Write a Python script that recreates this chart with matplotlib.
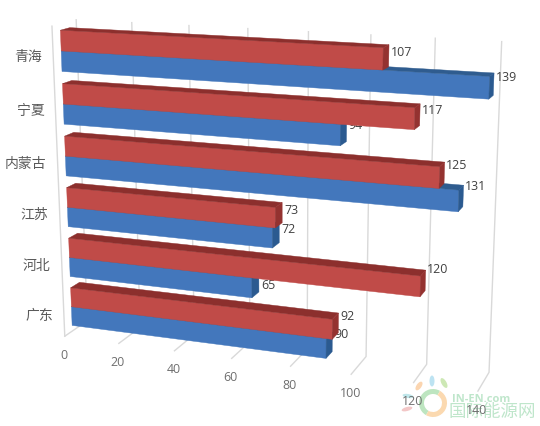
import numpy as np
import matplotlib
matplotlib.use("Agg")
import matplotlib.pyplot as plt
from matplotlib.patches import Polygon, Ellipse, Wedge

plt.rcParams['font.family'] = ['Noto Sans CJK SC', 'DejaVu Sans']

# ---- data -------------------------------------------------------------
categories = ['广东', '河北', '江苏', '内蒙古', '宁夏', '青海']
blue_values = [90, 65, 72, 131, 94, 139]
red_values = [92, 120, 73, 125, 117, 107]
value_ticks = [0, 20, 40, 60, 80, 100, 120, 140]

# ---- camera: 3D chart box (value, category height, depth) to pixels -----
cal_world = [
    (0, 6, 1), (20, 6, 1), (40, 6, 1), (60, 6, 1), (80, 6, 1), (100, 6, 1), (120, 6, 1), (140, 6, 1),
    (80, 0, 1), (100, 0, 1), (120, 0, 1), (140, 0, 1),
    (0, 0, 0), (20, 0, 0), (40, 0, 0), (60, 0, 0), (80, 0, 0), (100, 0, 0), (120, 0, 0), (140, 0, 0),
    (0, 6, 0),
]
cal_pixel = [
    (76, 22), (132, 23), (189, 26), (248, 29), (308, 33), (371, 37), (435, 39), (502, 42),
    (307, 350), (366, 357), (427, 365), (489, 374),
    (64, 337), (119, 344), (175, 352), (232, 360), (291, 367), (351, 375), (414, 384), (477, 392),
    (52, 27),
]

# upward shift of each data label, in pixels (same order as categories)
red_label_lift = [7, 12, 3, 8, 5, 4]
blue_label_lift = [8, -2, 4, 10, 6, 8]


def fit_camera(world, pixel):
    rows, rhs = [], []
    for (a, b, c), (x, y) in zip(world, pixel):
        rows.append([a, b, c, 1, 0, 0, 0, 0, -x * a, -x * b, -x * c])
        rhs.append(x)
        rows.append([0, 0, 0, 0, a, b, c, 1, -y * a, -y * b, -y * c])
        rhs.append(y)
    sol = np.linalg.lstsq(np.array(rows, float), np.array(rhs, float), rcond=None)[0]
    return np.append(sol, 1.0).reshape(3, 4)


CAM = fit_camera(cal_world, cal_pixel)


def project(v, h, d):
    p = CAM @ np.array([v, h, d, 1.0])
    return p[0] / p[2], p[1] / p[2]


# ---- figure -------------------------------------------------------------
fig = plt.figure(figsize=(5.4, 4.27), dpi=100)
ax = fig.add_axes([0, 0, 1, 1])
ax.set_xlim(0, 540)
ax.set_ylim(427, 0)
ax.axis('off')

GRID = '#D9D9D9'
n = len(categories)

# back wall and floor gridlines, left wall edge
for t in value_ticks:
    pts = [project(t, n, 1), project(t, 0, 1), project(t, 0, 0)]
    ax.plot(*zip(*pts), color=GRID, lw=1.0, zorder=1)
ax.plot(*zip(project(0, n, 0), project(0, 0, 0)), color=GRID, lw=1.0, zorder=1)

BAR_D0, BAR_D1 = 0.33, 0.72
BAR_H = 0.385
RED = dict(front='#C04B48', top='#8C2F2D', side='#943230')
BLUE = dict(front='#4377BC', top='#2F5C8F', side='#2B5A90')


def draw_bar(value, h0, h1, col, z):
    faces = [
        ([(0, h0, BAR_D0), (value, h0, BAR_D0), (value, h1, BAR_D0), (0, h1, BAR_D0)], col['front']),
        ([(0, h1, BAR_D0), (value, h1, BAR_D0), (value, h1, BAR_D1), (0, h1, BAR_D1)], col['top']),
        ([(value, h0, BAR_D0), (value, h1, BAR_D0), (value, h1, BAR_D1), (value, h0, BAR_D1)], col['side']),
    ]
    for corners, c in faces:
        ax.add_patch(Polygon([project(*q) for q in corners], closed=True,
                             facecolor=c, edgecolor=c, lw=0.3, zorder=z))


z = 10
for i in range(n - 1, -1, -1):
    centre = i + 0.5
    draw_bar(blue_values[i], centre - BAR_H, centre, BLUE, z)
    z += 1
    draw_bar(red_values[i], centre, centre + BAR_H, RED, z)
    z += 1

# data labels sit underneath the bars, as in the reference
LABEL = '#404040'
num_font = ['Open Sans', 'DejaVu Sans']
for i in range(n):
    centre = i + 0.5
    for val, h, lift in ((red_values[i], centre + BAR_H * 0.5, red_label_lift[i]),
                         (blue_values[i], centre - BAR_H * 0.5, blue_label_lift[i])):
        ax.annotate(str(val), project(val, h, BAR_D1), xytext=(2, lift), textcoords='offset pixels',
                    ha='left', va='center', fontsize=8.9, color=LABEL, family=num_font, zorder=5)

# watermark, underneath the axis labels
WM = '#BFE6CB'
ax.add_patch(Wedge((433, 404), 14, 120, 300, width=5, facecolor='#BDE5C0', edgecolor='none', zorder=28))
ax.add_patch(Wedge((433, 404), 14, 300, 480, width=5, facecolor='#FBD9B0', edgecolor='none', zorder=28))
for cx, cy, w, h, ang, c in [(432, 382, 5, 11, 0, '#BDE3F2'), (444, 384, 5, 11, -30, '#CDE8B5'),
                             (419, 387, 5, 10, 35, '#FBD5B0'), (408, 397, 11, 4, 10, '#BFE6EA'),
                             (407, 410, 11, 4, -15, '#F3C7C7')]:
    ax.add_patch(Ellipse((cx, cy), w, h, angle=ang, facecolor=c, edgecolor='none', zorder=28))
ax.text(452, 400, 'IN-EN.com', fontsize=8, color=WM, family=num_font, fontweight='bold',
        ha='left', va='center', zorder=28)
ax.text(448, 412, '国际能源网', fontsize=12.6, color=WM, ha='left', va='center', zorder=28)

# axis labels
TICK = '#6E6E6E'
for t in value_ticks:
    ax.annotate(str(t), project(t, 0, 0), xytext=(-1, -18), textcoords='offset pixels',
                ha='center', va='center', fontsize=8.9, color=TICK, family=num_font, zorder=30)
for i, name in enumerate(categories):
    ax.annotate(name, project(0, i + 0.5, 0), xytext=(-11, -3), textcoords='offset pixels',
                ha='right', va='center', fontsize=10, color='#5A5A5A', zorder=30)

fig.savefig('out.png', dpi=100)
